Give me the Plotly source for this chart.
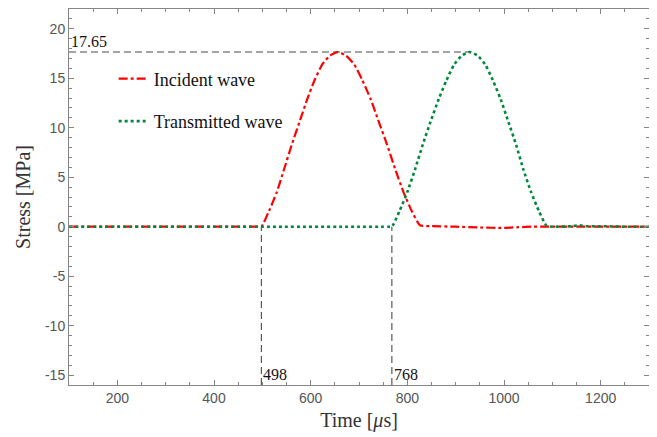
import plotly.graph_objects as go

# Data
incident_t = [100, 300, 450, 490, 498, 514, 530, 545, 561, 577, 593, 608, 624, 640, 656,
              673, 690, 707, 724, 741, 758, 775, 792, 809, 826, 850, 900, 950, 1000, 1030, 1060, 1150, 1300]
incident_v = [0, 0, 0, 0, 0, 1.6, 3.5, 5.8, 8.3, 10.6, 12.9, 14.8, 16.4, 17.3, 17.65,
              17.3, 16.4, 14.8, 12.9, 10.6, 8.3, 5.8, 3.5, 1.6, 0.15, 0.05, 0.0, -0.08, -0.12, -0.05, 0, 0, 0]

transmitted_t = [100, 300, 500, 700, 750, 760, 768, 784, 800, 816, 832, 848, 865, 881, 897, 913, 929,
                 945, 961, 977, 993, 1009, 1025, 1040, 1056, 1072, 1088, 1100, 1140, 1155, 1170, 1200, 1250, 1300]
transmitted_v = [0, 0, 0, 0, 0, 0, 0, 1.6, 3.5, 5.8, 8.3, 10.6, 12.9, 14.8, 16.4, 17.3, 17.65,
                 17.3, 16.4, 14.8, 12.9, 10.6, 8.3, 5.8, 3.5, 1.6, 0.1, 0.0, 0.05, 0.15, 0.05, 0.05, 0, 0]

peak_value = 17.65
peak_time_transmitted = 929
start_incident = 498
start_transmitted = 768

x_range = [100, 1300]
y_range = [-16, 22]
x_ticks = [200, 400, 600, 800, 1000, 1200]
y_ticks = [-15, -10, -5, 0, 5, 10, 15, 20]
y_tick_text = ["-15", "-10", "-5", "0", "5", "10", "15", "20"]

serif = "Liberation Serif, Times New Roman, serif"
sans = "Liberation Sans, Arial, sans-serif"
ref_col = "#4a4a4a"
axis_col = "#868686"

fig = go.Figure()

# reference dashed lines
fig.add_trace(go.Scatter(x=[x_range[0], peak_time_transmitted], y=[peak_value, peak_value],
                         mode="lines", line=dict(color=ref_col, width=1.1, dash="7px,4px"),
                         showlegend=False, hoverinfo="skip"))
for ts in [start_incident, start_transmitted]:
    fig.add_trace(go.Scatter(x=[ts, ts], y=[y_range[0], 0],
                             mode="lines", line=dict(color=ref_col, width=1.1, dash="7px,4px"),
                             showlegend=False, hoverinfo="skip"))

fig.add_trace(go.Scatter(x=incident_t, y=incident_v, mode="lines", name="Incident wave",
                         line=dict(color="#ff0000", width=2.2, dash="dashdot", shape="spline", smoothing=0.5),
                         legendgroup="a"))
fig.add_trace(go.Scatter(x=transmitted_t, y=transmitted_v, mode="lines", name="Transmitted wave",
                         line=dict(color="#00883c", width=2.6, dash="dot", shape="spline", smoothing=0.5),
                         legendgroup="b"))

# dummy trace for mirrored axes (top / right) carrying minor ticks
fig.add_trace(go.Scatter(x=[x_range[0]], y=[y_range[0]], xaxis="x2", yaxis="y2", mode="markers",
                         marker=dict(opacity=0), showlegend=False, hoverinfo="skip"))

fig.add_annotation(x=x_range[0], y=peak_value, text=f"{peak_value:.2f}", showarrow=False,
                   xanchor="left", yanchor="bottom", xshift=0, yshift=0,
                   font=dict(family=serif, size=16, color="#111111"))
for ts in [start_incident, start_transmitted]:
    fig.add_annotation(x=ts, y=y_range[0], text=str(ts), showarrow=False,
                       xanchor="left", yanchor="bottom", xshift=0, yshift=0,
                       font=dict(family=serif, size=16, color="#111111"))

axis_common = dict(showline=True, linecolor=axis_col, linewidth=1,
                   ticks="inside", ticklen=5, tickcolor=axis_col, showgrid=False, zeroline=False,
                   automargin=False,
                   tickfont=dict(family=sans, size=14, color="#555555"))

fig.update_layout(
    width=657, height=437,
    margin=dict(l=61, r=16, t=1, b=60),
    plot_bgcolor="white", paper_bgcolor="white",
    xaxis=dict(range=x_range, tickvals=x_ticks,
               minor=dict(dtick=50, ticks="inside", ticklen=3, tickcolor=axis_col, showgrid=False),
               title=dict(text="Time [<i>μ</i>s]", font=dict(family=serif, size=20, color="#333333"), standoff=8),
               **axis_common),
    yaxis=dict(range=y_range, tickvals=y_ticks, ticktext=y_tick_text,
               minor=dict(dtick=1, ticks="inside", ticklen=3, tickcolor=axis_col, showgrid=False),
               title=dict(text="Stress [MPa]", font=dict(family=serif, size=20, color="#333333"), standoff=8),
               **axis_common),
    xaxis2=dict(range=x_range, tickvals=x_ticks, overlaying="x", side="top", anchor="y2",
                showticklabels=False,
                minor=dict(dtick=50, ticks="inside", ticklen=3, tickcolor=axis_col, showgrid=False),
                **axis_common),
    yaxis2=dict(range=y_range, tickvals=y_ticks, overlaying="y", side="right", anchor="x2",
                showticklabels=False,
                minor=dict(dtick=1, ticks="inside", ticklen=3, tickcolor=axis_col, showgrid=False),
                **axis_common),
    legend=dict(x=0.077, y=0.863, xanchor="left", yanchor="top", bgcolor="rgba(0,0,0,0)",
                font=dict(family=serif, size=18, color="#111111"), tracegroupgap=16),
)

fig.write_html("out.html")
